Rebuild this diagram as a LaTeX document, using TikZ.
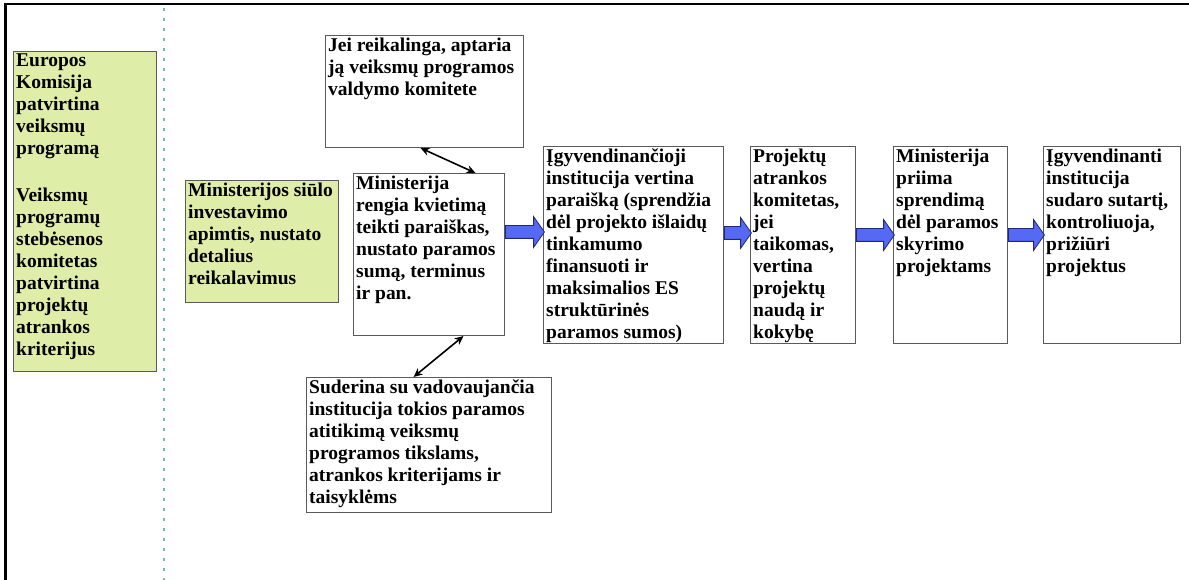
\documentclass[tikz,border=0pt]{standalone}
\usepackage{fontspec}
\setmainfont{Liberation Serif}
\usetikzlibrary{arrows.meta,shapes.arrows}
\definecolor{boxline}{RGB}{90,90,90}
\definecolor{leaf}{RGB}{222,238,168}
\definecolor{arrblue}{RGB}{85,105,245}
\definecolor{arrline}{RGB}{30,40,120}
\definecolor{sepline}{RGB}{110,190,180}
\tikzset{
  panel/.style={draw=boxline, line width=1pt, anchor=north west, inner sep=0pt},
  txt/.style={anchor=north west, align=left, inner sep=3pt, font=\fontsize{19.5}{22}\selectfont\bfseries},
  blockarr/.style={single arrow, draw=arrline, fill=arrblue, line width=0.8pt, inner xsep=0pt, inner ysep=6pt,
    single arrow head extend=9pt, single arrow tip angle=110, anchor=tail, minimum height=#1},
  link/.style={{Stealth[length=9pt,width=8pt]}-{Stealth[length=9pt,width=8pt]}, line width=1.6pt}
}
\begin{document}
\begin{tikzpicture}[x=1pt,y=-1pt]
\useasboundingbox (0,0) rectangle (1189,580);
% frame and separator
\draw[line width=2.7pt] (5.3,580) |- (1189,4);
\draw[sepline, line width=1.2pt, dash pattern=on 3pt off 7pt] (164,8) -- (164,580);
% left column
\node[panel, fill=leaf, minimum width=143pt, minimum height=320pt] (ec) at (13,51) {};
\node[txt] (ectext) at (ec.north west) {Europos\\Komisija\\patvirtina\\veiksmų\\programą\\[25pt]Veiksmų\\programų\\stebėsenos\\komitetas\\patvirtina\\projektų\\atrankos\\kriterijus};
\node[panel, fill=leaf, minimum width=153pt, minimum height=122pt] (mss) at (185,180) {};
\node[txt] (msstext) at (mss.north west) {Ministerijos siūlo\\investavimo\\apimtis, nustato\\detalius\\reikalavimus};
% ministry block
\node[panel, minimum width=198pt, minimum height=112pt] (top) at (325,35) {};
\node[txt] (toptext) at (top.north west) {Jei reikalinga, aptaria\\ją veiksmų programos\\valdymo komitete};
\node[panel, minimum width=151pt, minimum height=162pt] (min) at (353,173) {};
\node[txt] (mintext) at (min.north west) {Ministerija\\rengia kvietimą\\teikti paraiškas,\\nustato paramos\\sumą, terminus\\ir pan.};
\node[panel, minimum width=245pt, minimum height=135pt] (sud) at (306,377) {};
\node[txt] (sudtext) at (sud.north west) {Suderina su vadovaujančia\\institucija tokios paramos\\atitikimą veiksmų\\programos tikslams,\\atrankos kriterijams ir\\taisyklėms};
% process chain
\node[panel, minimum width=180pt, minimum height=197pt] (b4) at (543,146) {};
\node[txt] (b4text) at (b4.north west) {Įgyvendinančioji\\institucija vertina\\paraišką (sprendžia\\dėl projekto išlaidų\\tinkamumo\\finansuoti ir\\maksimalios ES\\struktūrinės\\paramos sumos)};
\node[panel, minimum width=105pt, minimum height=197pt] (b5) at (750,146) {};
\node[txt] (b5text) at (b5.north west) {Projektų\\atrankos\\komitetas,\\jei\\taikomas,\\vertina\\projektų\\naudą ir\\kokybę};
\node[panel, minimum width=114pt, minimum height=197pt] (b6) at (893,146) {};
\node[txt] (b6text) at (b6.north west) {Ministerija\\priima\\sprendimą\\dėl paramos\\skyrimo\\projektams};
\node[panel, minimum width=137pt, minimum height=197pt] (b7) at (1043,146) {};
\node[txt] (b7text) at (b7.north west) {Įgyvendinanti\\institucija\\sudaro sutartį,\\kontroliuoja,\\prižiūri\\projektus};
% arrows
\node[blockarr=39pt] (ar1) at (min.east |- 0,232) {};
\node[blockarr=27pt] (ar2) at (b4.east |- 0,233) {};
\node[blockarr=38pt] (ar3) at (b5.east |- 0,235) {};
\node[blockarr=36pt] (ar4) at (b6.east |- 0,235) {};
\draw[link] ([xshift=-4pt]top.south) -- ([xshift=46.5pt]min.north);
\draw[link] ([xshift=34.5pt]min.south) -- ([xshift=-15.5pt]sud.north);
\end{tikzpicture}
\end{document}
